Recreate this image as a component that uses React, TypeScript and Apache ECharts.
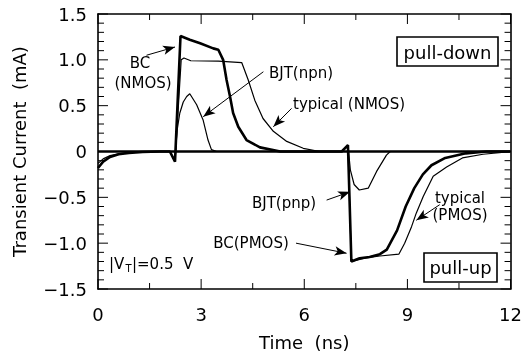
import React, { useEffect, useRef } from "react";
import * as echarts from "echarts";

// ---- data (time in ns, current in mA) ----
const tBcNmos = [0, 0.15, 0.35, 0.6, 0.9, 1.3, 1.8, 2.09, 2.24, 2.4, 2.67, 2.97, 3.35, 3.5, 3.64, 3.74, 3.84, 3.93, 4.08, 4.32, 4.71, 5.3, 12];
const vBcNmos = [-0.18, -0.11, -0.06, -0.03, -0.015, -0.005, 0, 0, -0.11, 1.26, 1.22, 1.18, 1.125, 1.11, 1.0, 0.78, 0.6, 0.42, 0.27, 0.125, 0.045, 0, 0];

const tTypNmos = [0, 0.15, 0.35, 0.6, 0.9, 1.3, 1.8, 2.09, 2.24, 2.42, 2.5, 2.7, 3.5, 4.18, 4.37, 4.56, 4.8, 5.1, 5.49, 5.97, 6.45, 12];
const vTypNmos = [-0.13, -0.08, -0.045, -0.025, -0.012, -0.004, 0, 0, -0.11, 1.0, 1.02, 0.99, 0.985, 0.97, 0.78, 0.56, 0.36, 0.22, 0.11, 0.035, 0, 0];

const tBjtNpn = [0, 2.09, 2.24, 2.3, 2.38, 2.48, 2.58, 2.67, 2.87, 3.06, 3.2, 3.3, 3.45, 12];
const vBjtNpn = [0, 0, -0.11, 0.23, 0.42, 0.54, 0.6, 0.63, 0.51, 0.34, 0.125, 0.02, 0, 0];

const tBcPmos = [0, 7.09, 7.27, 7.37, 7.61, 7.9, 8.2, 8.4, 8.7, 8.95, 9.2, 9.45, 9.7, 10.1, 10.7, 11.3, 12];
const vBcPmos = [0, 0, 0.07, -1.2, -1.165, -1.15, -1.12, -1.07, -0.86, -0.6, -0.4, -0.25, -0.15, -0.07, -0.02, 0, 0];

const tTypPmos = [0, 7.09, 7.27, 7.37, 7.8, 8.2, 8.75, 8.92, 9.12, 9.26, 9.46, 9.75, 10.14, 10.6, 11.2, 12];
const vTypPmos = [0, 0, 0.07, -1.2, -1.16, -1.14, -1.12, -1.0, -0.82, -0.67, -0.49, -0.27, -0.17, -0.07, -0.03, 0];

const tBjtPnp = [0, 7.09, 7.27, 7.34, 7.45, 7.6, 7.86, 8.1, 8.39, 8.5, 12];
const vBjtPnp = [0, 0, 0.07, -0.2, -0.36, -0.42, -0.4, -0.22, -0.04, 0, 0];

// annotation arrows: [fromT, fromV, toT, toV]
const arrowBcNmos = [1.41, 1.05, 2.24, 1.14];
const arrowBjtNpn = [4.81, 0.87, 3.06, 0.38];
const arrowTypNmos = [5.63, 0.47, 5.1, 0.27];
const arrowBjtPnp = [6.65, -0.53, 7.33, -0.44];
const arrowBcPmos = [5.76, -1.0, 7.23, -1.11];
const arrowTypPmos = [9.94, -0.58, 9.26, -0.75];

// axis ticks
const xMin = 0, xMax = 12, xInterval = 3, xMinorSplit = 2;
const yMin = -1.5, yMax = 1.5, yInterval = 0.5, yMinorSplit = 5;

const FONT = '"DejaVu Sans", sans-serif';

function zip(t: number[], v: number[]) {
  return t.map((x, i) => [x, v[i]]);
}

function arrowPair(a: number[]) {
  return [{ coord: [a[0], a[1]] }, { coord: [a[2], a[3]] }];
}

function txt(text: string, x: number, y: number, size: number, align = "center") {
  return {
    type: "text",
    x,
    y,
    z: 10,
    silent: true,
    style: {
      text,
      fill: "#000",
      font: `normal ${size}px ${FONT}`,
      align,
      textAlign: align,
      verticalAlign: "middle",
      textVerticalAlign: "middle",
    },
  };
}

function tickValues(min: number, max: number, interval: number, split: number) {
  const out: { v: number; major: boolean }[] = [];
  const n = Math.round((max - min) / interval) * split;
  for (let i = 0; i <= n; i++) {
    out.push({ v: min + (i * interval) / split, major: i % split === 0 });
  }
  return out;
}

function makeAxis(isX: boolean, position: string, extra: any) {
  return {
    type: "value",
    position,
    min: isX ? xMin : yMin,
    max: isX ? xMax : yMax,
    interval: isX ? xInterval : yInterval,
    splitLine: { show: false },
    axisLine: { show: true, onZero: false, lineStyle: { color: "#000", width: 1.6 } },
    axisTick: { show: false },
    minorTick: { show: false },
    ...extra,
  };
}

export default function App() {
  const ref = useRef<HTMLDivElement>(null);
  useEffect(() => {
    if (!ref.current) return;
    const chart = echarts.init(ref.current, undefined, { renderer: "svg" });
    const lineSeries = (name: string, t: number[], v: number[], w: number) => ({
      name,
      type: "line",
      data: zip(t, v),
      showSymbol: false,
      symbol: "none",
      lineStyle: { color: "#000", width: w },
      silent: true,
    });
    chart.setOption({
      animation: false,
      grid: { left: 98, right: 14, top: 14, bottom: 67, containLabel: false },
      xAxis: [
        makeAxis(true, "bottom", {
          name: "Time  (ns)",
          nameLocation: "middle",
          nameGap: 44,
          nameTextStyle: { color: "#000", fontSize: 18, fontFamily: FONT },
          axisLabel: { color: "#000", fontSize: 18, fontFamily: FONT, margin: 16 },
        }),
        makeAxis(true, "top", { axisLabel: { show: false } }),
      ],
      yAxis: [
        makeAxis(false, "left", {
          name: "Transient Current  (mA)",
          nameLocation: "middle",
          nameGap: 70,
          nameTextStyle: { color: "#000", fontSize: 18, fontFamily: FONT },
          axisLabel: {
            color: "#000",
            fontSize: 18,
            fontFamily: FONT,
            margin: 11,
            formatter: (v: number) => (v === 0 ? "0" : v.toFixed(1).replace("-", "\u2212")),
          },
        }),
        makeAxis(false, "right", { axisLabel: { show: false } }),
      ],
      series: [
        lineSeries("BC (NMOS)", tBcNmos, vBcNmos, 2.6),
        lineSeries("typical (NMOS)", tTypNmos, vTypNmos, 1.2),
        lineSeries("BJT(npn)", tBjtNpn, vBjtNpn, 1.2),
        lineSeries("BC(PMOS)", tBcPmos, vBcPmos, 2.6),
        lineSeries("typical (PMOS)", tTypPmos, vTypPmos, 1.2),
        {
          ...lineSeries("BJT(pnp)", tBjtPnp, vBjtPnp, 1.2),
          markLine: {
            silent: true,
            symbol: ["none", "arrow"],
            symbolSize: [7, 12],
            label: { show: false },
            lineStyle: { color: "#000", width: 1, type: "solid" },
            emphasis: { disabled: true },
            data: [
              arrowPair(arrowBcNmos),
              arrowPair(arrowBjtNpn),
              arrowPair(arrowTypNmos),
              arrowPair(arrowBjtPnp),
              arrowPair(arrowBcPmos),
              arrowPair(arrowTypPmos),
            ],
          },
        },
      ],
    });

    // ticks drawn through the grid's own scale
    const toPx = (x: number, y: number) => chart.convertToPixel({ gridIndex: 0 }, [x, y]) as number[];
    const [left, top] = toPx(xMin, yMax);
    const [right, bottom] = toPx(xMax, yMin);
    const MAJOR = 10, MINOR = 6;
    const ticks: any[] = [];
    const seg = (x1: number, y1: number, x2: number, y2: number) =>
      ticks.push({ type: "line", silent: true, z: 5, shape: { x1, y1, x2, y2 }, style: { stroke: "#000", lineWidth: 1 } });
    tickValues(xMin, xMax, xInterval, xMinorSplit).forEach(({ v, major }) => {
      const x = toPx(v, 0)[0];
      const len = major ? MAJOR : MINOR;
      seg(x, bottom, x, bottom - len);
      seg(x, top, x, top + len);
    });
    tickValues(yMin, yMax, yInterval, yMinorSplit).forEach(({ v, major }) => {
      const y = toPx(0, v)[1];
      const len = major ? MAJOR : MINOR;
      seg(left, y, left + len, y);
      seg(right, y, right - len, y);
    });

    chart.setOption({
      graphic: [
        ...ticks,
        { type: "rect", z: 10, silent: true, shape: { x: 397, y: 37, width: 101, height: 29 }, style: { fill: "#fff", stroke: "#000", lineWidth: 1.6 } },
        txt("pull-down", 447.5, 52, 18),
        { type: "rect", z: 10, silent: true, shape: { x: 424, y: 253, width: 73, height: 29 }, style: { fill: "#fff", stroke: "#000", lineWidth: 1.6 } },
        txt("pull-up", 460.5, 267.5, 18),
        txt("BC", 140, 63, 15),
        txt("(NMOS)", 143, 83, 15),
        txt("BJT(npn)", 301, 73, 15),
        txt("typical (NMOS)", 293, 104, 15, "left"),
        txt("BJT(pnp)", 284, 203, 15),
        txt("BC(PMOS)", 251, 243, 15),
        txt("typical", 460, 198, 15),
        txt("(PMOS)", 460, 215, 15),
        txt("|V", 109, 264, 15, "left"),
        txt("T", 125.5, 268, 10, "left"),
        txt("|=0.5  V", 132, 264, 15, "left"),
      ],
    });
    return () => chart.dispose();
  }, []);
  return <div ref={ref} style={{ position: "fixed", left: 0, top: 0, width: 525, height: 356 }} />;
}
